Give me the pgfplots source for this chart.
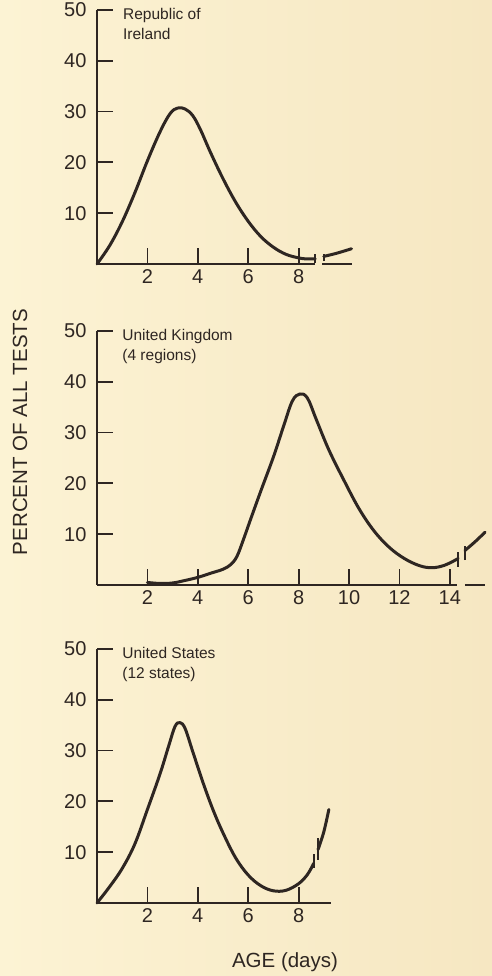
\documentclass[border=0pt]{standalone}
\usepackage{fontspec}
\setmainfont{Liberation Sans}
\usepackage{pgfplots}
\pgfplotsset{compat=1.18}
\definecolor{ink}{HTML}{2E2622}
\definecolor{bgL}{HTML}{FCF3D4}
\definecolor{bgR}{HTML}{F6E7C2}
\pgfplotsset{
  panel/.style={
    scale only axis, x=25.2pt, y=5.08pt,
    xmin=0, ymin=0, ymax=50,
    axis x line=bottom, axis y line=left,
    axis line style={-, line width=1.9pt, ink},
    x axis line style={draw=none},
    tick align=inside, major tick length=16pt,
    tick style={line width=1.8pt, ink},
    ytick={10,20,30,40,50},
    clip=false,
    /pgf/number format/assume math mode=true,
    tick label style={font=\fontsize{20}{20}\selectfont, text=ink},
    yticklabel style={xshift=-7pt},
    xticklabel style={yshift=-2pt},
  },
  crv/.style={ink, line width=3pt, smooth, tension=0.6, no marks, line cap=round, line join=round},
  seg/.style={ink, line width=1.9pt, no marks},
}
\begin{document}
\begin{tikzpicture}
\shade[left color=bgL, right color=bgR] (0,0) rectangle (492pt,976pt);
\path[use as bounding box] (0,0) rectangle (492pt,976pt);

% Panel 1: Republic of Ireland
\begin{axis}[panel, at={(97pt,712pt)}, anchor=south west, xmax=10.1, xtick={2,4,6,8}]
\addplot[crv] coordinates {(0,0)(0.5,3.6)(1.0,8.3)(1.5,14.0)(2.0,20.3)(2.5,26.0)(2.9,29.6)(3.2,30.7)(3.5,30.5)(3.8,29.2)(4.1,26.5)(4.5,22.0)(5.0,16.8)(5.5,12.2)(6.0,8.4)(6.5,5.4)(7.0,3.3)(7.5,1.9)(8.0,1.2)(8.3,1.0)(8.66,1.0)};
\addplot[crv] coordinates {(9.0,1.5)(9.5,2.1)(10.1,3.0)};
\addplot[seg] coordinates {(8.66,0.2)(8.66,2.0)};
\addplot[seg] coordinates {(9.0,0.5)(9.0,1.9)};
\addplot[seg] coordinates {(0,0)(8.66,0)};
\addplot[seg] coordinates {(8.93,0)(10.1,0)};
\node[anchor=north west, inner sep=0pt, align=left, font=\fontsize{15.5}{19.5}\selectfont, text=ink] at (axis cs:1.03,50.3) {Republic of\\Ireland};
\end{axis}

% Panel 2: United Kingdom
\begin{axis}[panel, at={(97pt,391pt)}, anchor=south west, xmax=15.4, xtick={2,4,6,8,10,12,14}]
\addplot[crv] coordinates {(2,0.5)(2.5,0.3)(3,0.4)(3.5,0.9)(4,1.5)(4.5,2.3)(5.0,3.1)(5.3,4.0)(5.55,5.6)(5.8,8.8)(6.1,13)(6.5,18.5)(7.0,25.2)(7.4,31.2)(7.75,36.2)(8.05,37.6)(8.35,36.8)(8.7,32.6)(9.2,26.6)(9.8,20.6)(10.4,15.0)(11.0,10.6)(11.6,7.4)(12.2,5.2)(12.8,3.8)(13.3,3.4)(13.8,3.9)(14.33,5.2)};
\addplot[crv] coordinates {(14.6,6.8)(15.0,8.5)(15.4,10.4)};
\addplot[seg] coordinates {(14.33,3.6)(14.33,6.4)};
\addplot[seg] coordinates {(14.6,4.9)(14.6,7.6)};
\addplot[seg] coordinates {(0,0)(14.3,0)};
\addplot[seg] coordinates {(14.6,0)(15.4,0)};
\node[anchor=north west, inner sep=0pt, align=left, font=\fontsize{15.5}{19.5}\selectfont, text=ink] at (axis cs:1.0,50.3) {United Kingdom\\(4 regions)};
\end{axis}

% Panel 3: United States
\begin{axis}[panel, at={(97pt,73pt)}, anchor=south west, xmax=9.27, xtick={2,4,6,8}]
\addplot[crv] coordinates {(0,0)(0.5,3.2)(1.0,6.8)(1.5,11.6)(2.0,18.4)(2.5,25.4)(2.85,31.0)(3.1,34.8)(3.3,35.5)(3.5,34.3)(3.8,29.8)(4.2,23.8)(4.6,18.4)(5.0,13.8)(5.5,8.9)(6.0,5.5)(6.5,3.4)(7.0,2.4)(7.5,2.5)(8.0,3.8)(8.35,5.6)(8.6,7.8)};
\addplot[crv] coordinates {(8.77,10.5)(9.0,14)(9.2,18.4)};
\addplot[seg] coordinates {(8.6,6.9)(8.6,9.6)};
\addplot[seg] coordinates {(8.77,8.5)(8.77,12.8)};
\addplot[seg] coordinates {(0,0)(9.27,0)};
\node[anchor=north west, inner sep=0pt, align=left, font=\fontsize{15.5}{19.5}\selectfont, text=ink] at (axis cs:1.0,50.3) {United States\\(12 states)};
\end{axis}

\node[rotate=90, text=ink, font=\fontsize{20.5}{20.5}\selectfont] at (20pt,544pt) {PERCENT OF ALL TESTS};
\node[text=ink, font=\fontsize{20.5}{20.5}\selectfont] at (285pt,14pt) {AGE (days)};
\end{tikzpicture}
\end{document}
